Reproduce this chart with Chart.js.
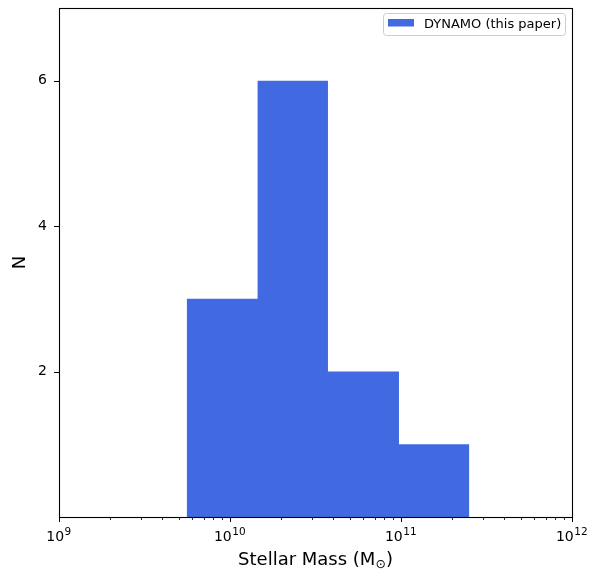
<!DOCTYPE html>
<html>
<head>
<meta charset="utf-8">
<script src="https://cdn.jsdelivr.net/npm/chart.js@4.4.1/dist/chart.umd.min.js"></script>
<style>
  html, body { margin: 0; padding: 0; background: #fff; }
  canvas { display: block; }
</style>
</head>
<body>
<canvas id="myChart" width="601" height="569"></canvas>
<script>
// histogram bin edges (solar masses) and counts per bin
const binEdges = [5.58e9, 1.45e10, 3.74e10, 9.73e10, 2.51e11];
const counts = [3, 6, 2, 1];
const seriesLabel = 'DYNAMO (this paper)';

// axis ticks
const xTickValues = [1e9, 1e10, 1e11, 1e12];
const xTickBase = '10';
const xTickExp = ['9', '10', '11', '12'];
const yTickValues = [2, 4, 6];
const yTickLabels = ['2', '4', '6'];

const barColor = '#4169E1';
const fontFamily = "'DejaVu Sans', sans-serif";

// minor log ticks 2..9 x 10^n
const xMinor = [];
for (let e = 9; e < 12; e++) {
    for (let m = 2; m <= 9; m++) xMinor.push(m * Math.pow(10, e));
}

// step points: each edge carries the count of the bin starting there
const histPoints = binEdges.map((edge, i) => ({
    x: edge,
    y: counts[Math.min(i, counts.length - 1)]
}));

const framePlugin = {
    id: 'frame',
    afterDraw(chart) {
        const { ctx, chartArea: a, scales } = chart;
        ctx.save();
        ctx.strokeStyle = '#000';

        // tick marks
        ctx.lineWidth = 1;
        ctx.beginPath();
        xTickValues.forEach(v => {
            const px = Math.round(scales.x.getPixelForValue(v)) + 0.5;
            ctx.moveTo(px, a.bottom);
            ctx.lineTo(px, a.bottom + 5);
        });
        yTickValues.forEach(v => {
            const py = Math.round(scales.y.getPixelForValue(v)) + 0.5;
            ctx.moveTo(a.left - 5, py);
            ctx.lineTo(a.left, py);
        });
        ctx.stroke();
        ctx.lineWidth = 0.8;
        ctx.beginPath();
        xMinor.forEach(v => {
            const px = Math.round(scales.x.getPixelForValue(v)) + 0.5;
            ctx.moveTo(px, a.bottom);
            ctx.lineTo(px, a.bottom + 3);
        });
        ctx.stroke();

        // axes box
        ctx.lineWidth = 1.1;
        ctx.strokeRect(Math.round(a.left) + 0.5, Math.round(a.top) + 0.5,
            Math.round(a.right - a.left), Math.round(a.bottom - a.top));

        ctx.fillStyle = '#000';
        ctx.textBaseline = 'alphabetic';

        // x tick labels, 10 with raised exponent
        xTickValues.forEach((v, i) => {
            const px = scales.x.getPixelForValue(v);
            ctx.font = '14px ' + fontFamily;
            const wb = ctx.measureText(xTickBase).width;
            ctx.font = '10.5px ' + fontFamily;
            const we = ctx.measureText(xTickExp[i]).width;
            const x0 = px - (wb + we) / 2 - 0.5;
            ctx.font = '14px ' + fontFamily;
            ctx.fillText(xTickBase, x0, a.bottom + 24);
            ctx.font = '10.5px ' + fontFamily;
            ctx.fillText(xTickExp[i], x0 + wb + 0.5, a.bottom + 18);
        });

        // x axis title with subscript sun symbol
        const main = 'Stellar Mass (M';
        const sub = '⊙';
        const tail = ')';
        ctx.font = '18px ' + fontFamily;
        const w1 = ctx.measureText(main).width;
        const w3 = ctx.measureText(tail).width;
        ctx.font = '12.5px ' + fontFamily;
        const w2 = ctx.measureText(sub).width;
        const cx = (a.left + a.right) / 2;
        const x0 = cx - (w1 + w2 + w3) / 2;
        const base = 565;
        ctx.font = '18px ' + fontFamily;
        ctx.fillText(main, x0, base);
        ctx.font = '12.5px ' + fontFamily;
        ctx.fillText(sub, x0 + w1, base + 3);
        ctx.font = '18px ' + fontFamily;
        ctx.fillText(tail, x0 + w1 + w2, base);

        // legend box in the upper right
        const lw = 182, lh = 22;
        const lx = a.right - 6.5 - lw, ly = a.top + 5.5;
        ctx.beginPath();
        ctx.roundRect(lx, ly, lw, lh, 3);
        ctx.fillStyle = 'rgba(255,255,255,0.8)';
        ctx.fill();
        ctx.strokeStyle = '#cccccc';
        ctx.lineWidth = 1;
        ctx.stroke();
        ctx.fillStyle = barColor;
        ctx.fillRect(lx + 4.5, ly + 5.5, 26, 7.5);
        ctx.fillStyle = '#000';
        ctx.font = '13px ' + fontFamily;
        ctx.textBaseline = 'middle';
        ctx.fillText(seriesLabel, lx + 40.5, ly + lh / 2 + 0.5);
        ctx.restore();
    }
};

const ctx = document.getElementById('myChart').getContext('2d');
const myChart = new Chart(ctx, {
    type: 'line',
    data: {
        datasets: [{
            label: seriesLabel,
            data: histPoints,
            stepped: 'before',
            fill: 'origin',
            backgroundColor: barColor,
            borderColor: 'rgba(0,0,0,0)',
            borderWidth: 0,
            pointRadius: 0,
            tension: 0
        }]
    },
    options: {
        responsive: false,
        animation: false,
        devicePixelRatio: 1,
        layout: { padding: { top: 8, right: 29, left: 0, bottom: 0 } },
        plugins: {
            legend: { display: false },
            tooltip: { enabled: false }
        },
        scales: {
            x: {
                type: 'logarithmic',
                min: 1e9,
                max: 1e12,
                grid: { display: false, drawTicks: false },
                border: { display: false },
                afterBuildTicks: scale => { scale.ticks = xTickValues.map(v => ({ value: v })); },
                afterFit: scale => {
                    scale.height = 52;
                    scale.paddingLeft = 0;
                    scale.paddingRight = 0;
                },
                ticks: { display: false }
            },
            y: {
                type: 'linear',
                min: 0,
                max: 7,
                grid: { display: false, drawTicks: false },
                border: { display: false },
                afterBuildTicks: scale => { scale.ticks = yTickValues.map(v => ({ value: v })); },
                afterFit: scale => {
                    scale.width = 59;
                    scale.paddingTop = 0;
                    scale.paddingBottom = 0;
                },
                ticks: {
                    padding: 12,
                    color: '#000',
                    font: { family: fontFamily, size: 14 },
                    callback: value => {
                        const i = yTickValues.indexOf(value);
                        return i >= 0 ? yTickLabels[i] : '';
                    }
                },
                title: {
                    display: true,
                    text: 'N',
                    color: '#000',
                    font: { family: fontFamily, size: 18 },
                    padding: { top: 10, bottom: 0 }
                }
            }
        }
    },
    plugins: [framePlugin]
});
</script>
</body>
</html>
